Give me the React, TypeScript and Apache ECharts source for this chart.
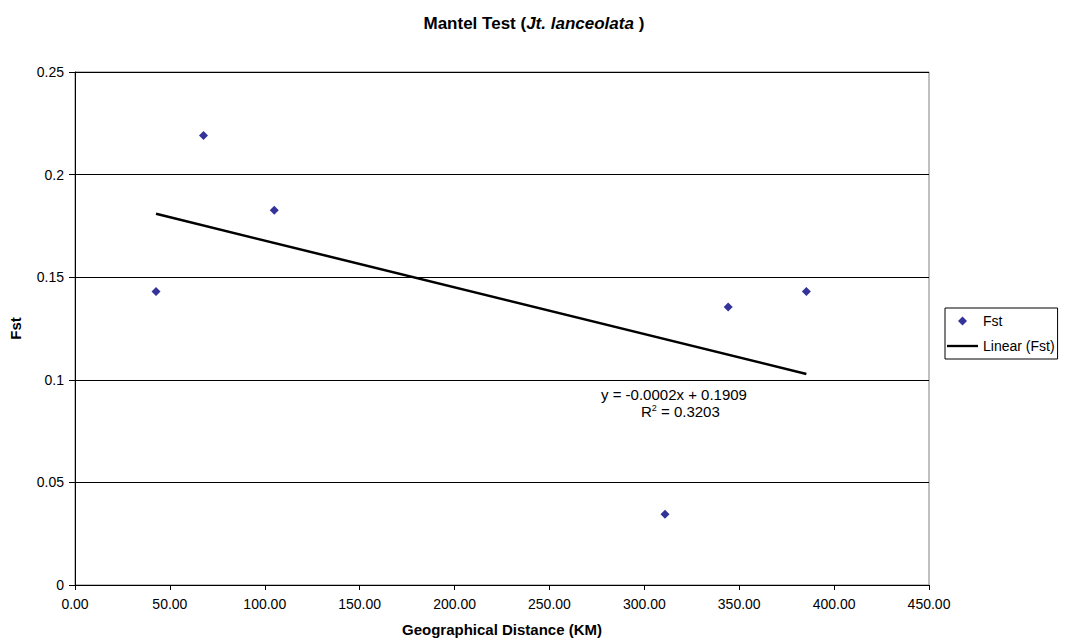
import React, { useEffect, useRef } from "react";
import * as echarts from "echarts";

const distanceKm = [42.7, 67.7, 105.0, 310.9, 344.2, 385.4];
const fstValues = [0.143, 0.219, 0.1826, 0.0345, 0.1355, 0.143];
const xTicks = { min: 0, max: 450, interval: 50 };
const yTicks = { min: 0, max: 0.25, interval: 0.05 };
const equationText = "y = -0.0002x + 0.1909";
const r2Text = "0.3203";

function linearFit(xs: number[], ys: number[]) {
  const n = xs.length;
  const mx = xs.reduce((a, b) => a + b, 0) / n;
  const my = ys.reduce((a, b) => a + b, 0) / n;
  let sxy = 0, sxx = 0;
  for (let i = 0; i < n; i++) {
    sxy += (xs[i] - mx) * (ys[i] - my);
    sxx += (xs[i] - mx) * (xs[i] - mx);
  }
  const slope = sxy / sxx;
  return { slope, intercept: my - slope * mx };
}

export default function App() {
  const ref = useRef<HTMLDivElement>(null);
  useEffect(() => {
    if (!ref.current) return;
    const chart = echarts.init(ref.current, undefined, { renderer: "svg" });
    const font = "Liberation Sans, Arial, sans-serif";
    const fit = linearFit(distanceKm, fstValues);
    const xMin = Math.min(...distanceKm);
    const xMax = Math.max(...distanceKm);
    const trend = [
      [xMin, fit.intercept + fit.slope * xMin],
      [xMax, fit.intercept + fit.slope * xMax],
    ];
    chart.setOption({
      animation: false,
      backgroundColor: "#ffffff",
      textStyle: { fontFamily: font },
      title: {
        text: "Mantel Test ({i|Jt. lanceolata})",
        left: "center",
        top: 10,
        textStyle: {
          fontFamily: font,
          fontSize: 17,
          fontWeight: "bold",
          color: "#000",
          rich: {
            i: {
              fontFamily: font,
              fontSize: 17,
              fontWeight: "bold",
              fontStyle: "italic",
              color: "#000",
              padding: [0, 5, 0, 0],
            },
          },
        },
      },
      grid: {
        left: 73,
        top: 72,
        width: 856,
        height: 513,
        show: true,
        borderColor: "#808080",
        borderWidth: 1,
        backgroundColor: "#ffffff",
      },
      legend: {
        orient: "vertical",
        left: 945,
        top: 308,
        padding: [6, 3, 6, 2],
        itemWidth: 31,
        itemHeight: 9,
        itemGap: 11,
        borderColor: "#000",
        borderWidth: 1,
        textStyle: { fontFamily: font, fontSize: 14, color: "#000" },
        data: [
          { name: "Fst", icon: "path://M5,0L10,5L5,10L0,5Z" },
          { name: "Linear (Fst)", icon: "path://M0,0h40v3h-40z" },
        ],
      },
      xAxis: {
        type: "value",
        min: xTicks.min,
        max: xTicks.max,
        interval: xTicks.interval,
        name: "Geographical Distance (KM)",
        nameLocation: "middle",
        nameGap: 37,
        nameTextStyle: { fontFamily: font, fontSize: 15, fontWeight: "bold", color: "#000" },
        axisLine: { onZero: false, lineStyle: { color: "#000", width: 1 } },
        axisTick: { show: true, length: 5, lineStyle: { color: "#000" } },
        axisLabel: {
          margin: 12,
          fontFamily: font,
          fontSize: 14,
          color: "#000",
          formatter: (v: number) => v.toFixed(2),
        },
        splitLine: { show: false },
      },
      yAxis: {
        type: "value",
        min: yTicks.min,
        max: yTicks.max,
        interval: yTicks.interval,
        name: "Fst",
        nameLocation: "middle",
        nameGap: 52,
        nameRotate: 90,
        nameTextStyle: { fontFamily: font, fontSize: 15, fontWeight: "bold", color: "#000" },
        axisLine: { show: true, lineStyle: { color: "#000", width: 1 } },
        axisTick: { show: true, length: 6, lineStyle: { color: "#000" } },
        axisLabel: {
          margin: 11,
          fontFamily: font,
          fontSize: 14,
          color: "#000",
          formatter: (v: number) => String(parseFloat(v.toFixed(2))),
        },
        splitLine: { show: true, lineStyle: { color: "#000", width: 1 } },
      },
      series: [
        {
          name: "Fst",
          type: "scatter",
          symbol: "diamond",
          symbolSize: 9,
          itemStyle: { color: "#000080" },
          data: distanceKm.map((x, i) => [x, fstValues[i]]),
          z: 3,
        },
        {
          name: "Linear (Fst)",
          type: "line",
          showSymbol: false,
          symbol: "none",
          lineStyle: { color: "#000", width: 2.5 },
          itemStyle: { color: "#000" },
          data: trend,
          z: 2,
        },
      ],
      graphic: [
        {
          type: "text",
          left: 601,
          top: 387,
          style: {
            text: equationText,
            fontFamily: font,
            fontSize: 15,
            fill: "#000",
          },
        },
        {
          type: "text",
          left: 641,
          top: 403,
          style: {
            text: "R{s|2} = " + r2Text,
            fontFamily: font,
            fontSize: 15,
            fill: "#000",
            rich: {
              s: { fontFamily: font, fontSize: 9, verticalAlign: "top", padding: [0, 0, 7, 0] },
            },
          },
        },
      ],
    });
    return () => chart.dispose();
  }, []);
  return (
    <div
      ref={ref}
      style={{ position: "fixed", left: 0, top: 0, width: 1068, height: 642 }}
    />
  );
}
